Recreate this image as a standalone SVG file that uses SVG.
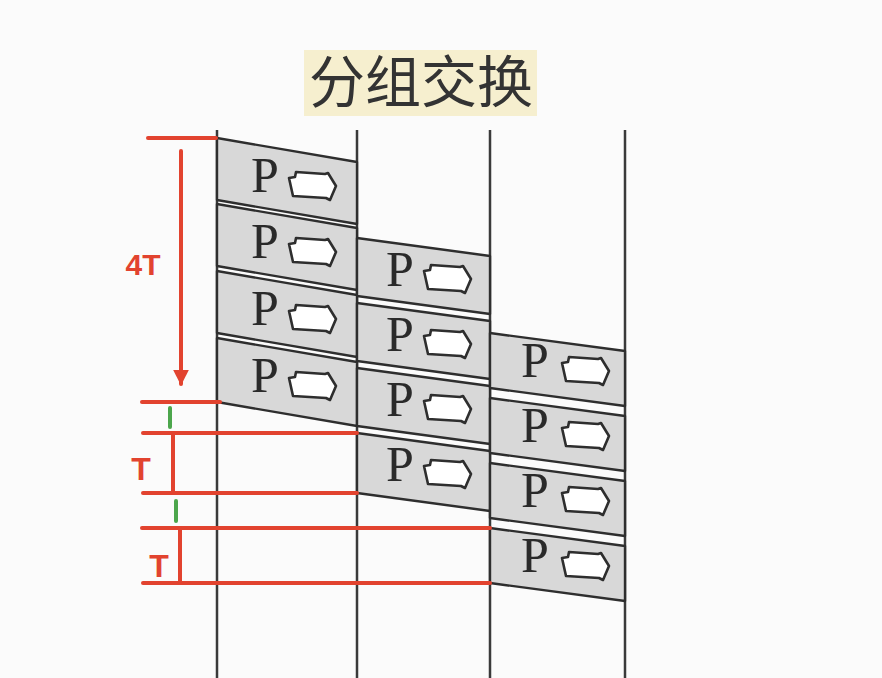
<svg xmlns="http://www.w3.org/2000/svg" xmlns:xlink="http://www.w3.org/1999/xlink" width="882" height="678" viewBox="0 0 882 678">
  <style>
    .tl { stroke: #3a3a3a; stroke-width: 2.5; fill: none; }
    .pk { fill: #d8d8d8; stroke: #2e2e2e; stroke-width: 2.4; stroke-linejoin: round; }
    .p { font-family: "Liberation Serif", "Times New Roman", serif; font-size: 50px; fill: #2a2a2a; }
    .ar { fill: #ffffff; stroke: #2e2e2e; stroke-width: 2.6; stroke-linejoin: round; }
    .red { stroke: #e2432f; stroke-width: 4; stroke-linecap: round; fill: none; }
    .grn { stroke: #4ca64c; stroke-width: 4; stroke-linecap: round; fill: none; }
    .lbl { font-family: "Liberation Sans", Arial, sans-serif; font-weight: bold; fill: #e2432f; }
    .title { font-family: "Noto Sans CJK SC", "Noto Sans", sans-serif; font-size: 56px; fill: #333333; }
  </style>
  <defs>
    <path id="arr" d="M1,7 L7,6 L8,1 L37,3 L40,2 L48,15 L42,29 L38,27 L5,25 L3,16 Z"/>
    <marker id="ah" viewBox="0 0 10 10" refX="9" refY="5" markerWidth="4" markerHeight="4" orient="auto" markerUnits="strokeWidth">
      <path d="M0,0 L10,5 L0,10 Z" fill="#e2432f"/>
    </marker>
  </defs>
  <rect width="882" height="678" fill="#fbfbfb"/>

  <g id="title">
    <rect x="304" y="50" width="233" height="66" fill="#f6efcf"/>
    <text class="title" x="421" y="102" text-anchor="middle">分组交换</text>
  </g>

  <g id="timelines">
    <line class="tl" x1="217" y1="130" x2="217" y2="678"/>
    <line class="tl" x1="357" y1="130" x2="357" y2="678"/>
    <line class="tl" x1="490" y1="130" x2="490" y2="678"/>
    <line class="tl" x1="625" y1="130" x2="625" y2="678"/>
  </g>

  <!-- Column 1 packets -->
  <g id="pkt-1-1" transform="translate(217,138)">
    <polygon class="pk" points="0,0 140,24 140,86 0,62"/>
    <text class="p" x="34" y="54">P</text>
    <use xlink:href="#arr" class="ar" x="71" y="33"/>
  </g>
  <g id="pkt-1-2" transform="translate(217,204)">
    <polygon class="pk" points="0,0 140,24 140,86 0,62"/>
    <text class="p" x="34" y="54">P</text>
    <use xlink:href="#arr" class="ar" x="71" y="33"/>
  </g>
  <g id="pkt-1-3" transform="translate(217,271)">
    <polygon class="pk" points="0,0 140,24 140,86 0,62"/>
    <text class="p" x="34" y="54">P</text>
    <use xlink:href="#arr" class="ar" x="71" y="33"/>
  </g>
  <g id="pkt-1-4" transform="translate(217,338)">
    <polygon class="pk" points="0,0 140,24 140,88 0,64"/>
    <text class="p" x="34" y="54">P</text>
    <use xlink:href="#arr" class="ar" x="71" y="33"/>
  </g>

  <!-- Column 2 packets -->
  <g id="pkt-2-1" transform="translate(357,238)">
    <polygon class="pk" points="0,0 133,18 133,76 0,58"/>
    <text class="p" x="29" y="48">P</text>
    <use xlink:href="#arr" class="ar" x="66" y="26"/>
  </g>
  <g id="pkt-2-2" transform="translate(357,303)">
    <polygon class="pk" points="0,0 133,18 133,76 0,58"/>
    <text class="p" x="29" y="48">P</text>
    <use xlink:href="#arr" class="ar" x="66" y="26"/>
  </g>
  <g id="pkt-2-3" transform="translate(357,368)">
    <polygon class="pk" points="0,0 133,18 133,76 0,58"/>
    <text class="p" x="29" y="48">P</text>
    <use xlink:href="#arr" class="ar" x="66" y="26"/>
  </g>
  <g id="pkt-2-4" transform="translate(357,433)">
    <polygon class="pk" points="0,0 133,18 133,78 0,60"/>
    <text class="p" x="29" y="48">P</text>
    <use xlink:href="#arr" class="ar" x="66" y="26"/>
  </g>

  <!-- Column 3 packets -->
  <g id="pkt-3-1" transform="translate(490,333)">
    <polygon class="pk" points="0,0 135,18 135,73 0,55"/>
    <text class="p" x="31" y="44">P</text>
    <use xlink:href="#arr" class="ar" x="71" y="23"/>
  </g>
  <g id="pkt-3-2" transform="translate(490,398)">
    <polygon class="pk" points="0,0 135,18 135,73 0,55"/>
    <text class="p" x="31" y="44">P</text>
    <use xlink:href="#arr" class="ar" x="71" y="23"/>
  </g>
  <g id="pkt-3-3" transform="translate(490,463)">
    <polygon class="pk" points="0,0 135,18 135,73 0,55"/>
    <text class="p" x="31" y="44">P</text>
    <use xlink:href="#arr" class="ar" x="71" y="23"/>
  </g>
  <g id="pkt-3-4" transform="translate(490,528)">
    <polygon class="pk" points="0,0 135,18 135,73 0,55"/>
    <text class="p" x="31" y="44">P</text>
    <use xlink:href="#arr" class="ar" x="71" y="23"/>
  </g>

  <g id="connectors">
    <line class="red" x1="148" y1="138" x2="216" y2="138"/>
    <line class="red" x1="181" y1="151" x2="181" y2="384" marker-end="url(#ah)"/>
    <line class="red" x1="142" y1="402" x2="220" y2="402"/>
    <line class="red" x1="143" y1="433" x2="357" y2="433"/>
    <line class="red" x1="173" y1="433" x2="173" y2="493"/>
    <line class="red" x1="143" y1="493" x2="357" y2="493"/>
    <line class="red" x1="142" y1="528" x2="490" y2="528"/>
    <line class="red" x1="180" y1="528" x2="180" y2="583"/>
    <line class="red" x1="143" y1="583" x2="490" y2="583"/>
    <line class="grn" x1="170" y1="408" x2="170" y2="427"/>
    <line class="grn" x1="176" y1="501" x2="176" y2="521"/>
  </g>

  <g id="labels">
    <text class="lbl" x="143" y="275" font-size="30" text-anchor="middle">4T</text>
    <text class="lbl" x="141" y="480" font-size="32" text-anchor="middle">T</text>
    <text class="lbl" x="159" y="577" font-size="32" text-anchor="middle">T</text>
  </g>
</svg>
